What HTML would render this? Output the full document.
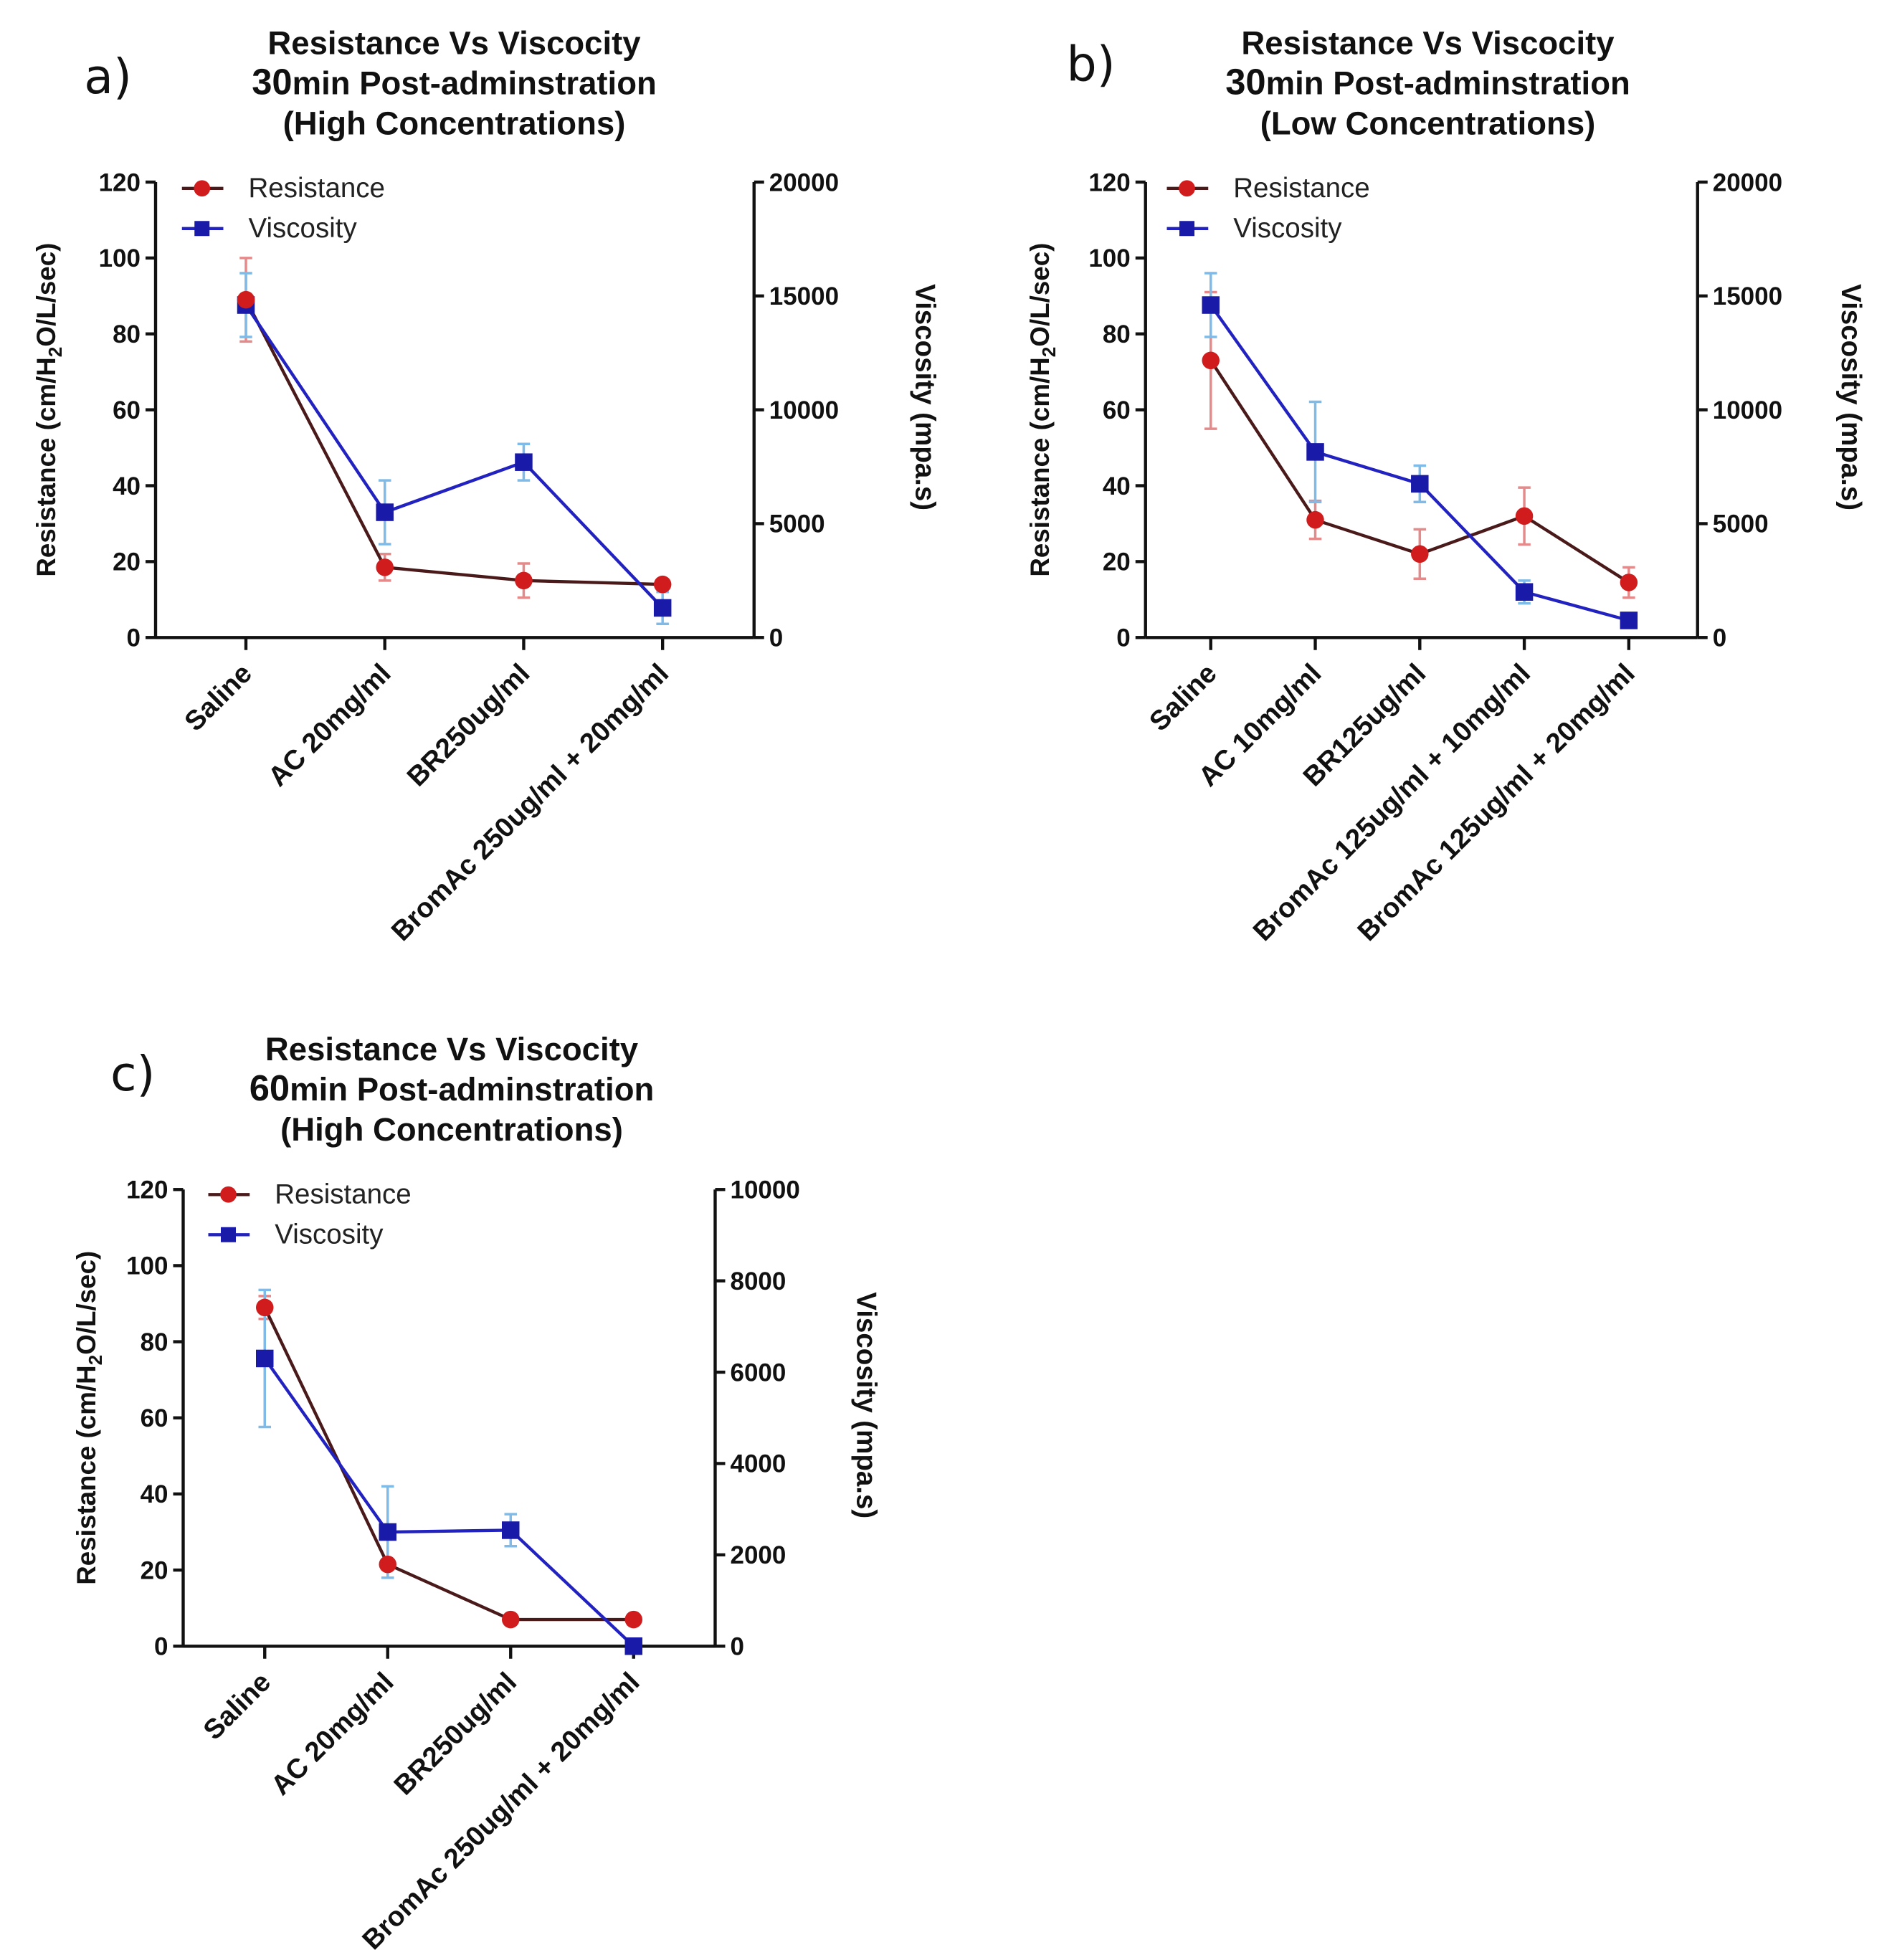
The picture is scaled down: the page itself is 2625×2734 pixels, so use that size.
<!DOCTYPE html>
<html><head><meta charset="utf-8">
<style>
html,body{margin:0;padding:0;background:#fff;}
svg{display:block;font-family:"Liberation Sans",Arial,sans-serif;}
</style></head>
<body>
<svg id="fig" width="2625" height="2734" viewBox="0 0 1500 1562" xmlns="http://www.w3.org/2000/svg"></svg>
<script>
// ---- Panel a data ----
const catsA = ["Saline","AC 20mg/ml","BR250ug/ml","BromAc 250ug/ml + 20mg/ml"];
const resA = [89, 18.5, 15, 14];
const resErrA = [11, 3.5, 4.5, 0];
const visA = [14600, 5500, 7700, 1300];
const visErrA = [1400, 1400, 800, 700];
const leftTicksA = [0,20,40,60,80,100,120];
const rightTicksA = [0,5000,10000,15000,20000];
// ---- Panel b data ----
const catsB = ["Saline","AC 10mg/ml","BR125ug/ml","BromAc 125ug/ml + 10mg/ml","BromAc 125ug/ml + 20mg/ml"];
const resB = [73, 31, 22, 32, 14.5];
const resErrB = [18, 5, 6.5, 7.5, 4];
const visB = [14600, 8150, 6750, 2000, 750];
const visErrB = [1400, 2200, 800, 500, 0];
const leftTicksB = [0,20,40,60,80,100,120];
const rightTicksB = [0,5000,10000,15000,20000];
// ---- Panel c data ----
const catsC = ["Saline","AC 20mg/ml","BR250ug/ml","BromAc 250ug/ml + 20mg/ml"];
const resC = [89, 21.5, 7, 7];
const resErrC = [3, 0, 0, 0];
const visC = [6300, 2500, 2540, 0];
const visErrC = [1500, 1000, 350, 0];
const leftTicksC = [0,20,40,60,80,100,120];
const rightTicksC = [0,2000,4000,6000,8000,10000];

const NS = "http://www.w3.org/2000/svg";
const svg = document.getElementById("fig");
function mk(tag, attrs, parent, text){
  const e = document.createElementNS(NS, tag);
  for (const k in attrs) e.setAttribute(k, attrs[k]);
  if (text !== undefined) e.textContent = text;
  (parent||svg).appendChild(e);
  return e;
}

function panel(p){
  const g = mk("g", {});
  
  
  const yL = v => p.bot - (v/120)*(p.bot-p.top);
  const yR = v => p.bot - (v/p.rmax)*(p.bot-p.top);
  const xC = i => p.x0 + i*p.dx;

  const lt = mk("text", {x:p.lx, y:p.ly, "font-size":38, fill:"#111", "font-family":"'DejaVu Sans',sans-serif"}, g, p.id + ")");
  
  
  const t = mk("text", {x:p.tx, y:p.ty, "font-size":26, "font-weight":"bold", "text-anchor":"middle", fill:"#111"}, g);
  
  
  mk("tspan", {x:p.tx, dy:0}, t, "Resistance Vs Viscocity");
  const t2 = mk("tspan", {x:p.tx, dy:32}, t);
  mk("tspan", {"font-size":29}, t2, p.min);
  mk("tspan", {}, t2, "min Post-adminstration");
  mk("tspan", {x:p.tx, dy:32}, t, p.sub);

  const ax = mk("g", {stroke:"#111","stroke-width":2.5, fill:"none"}, g);
  
  
  mk("line", {x1:p.L, y1:p.top, x2:p.L, y2:p.bot}, ax);
  mk("line", {x1:p.R, y1:p.top, x2:p.R, y2:p.bot}, ax);
  mk("line", {x1:p.L, y1:p.bot, x2:p.R, y2:p.bot}, ax);
  p.lt.forEach(v => {
    mk("line", {x1:p.L-8, y1:yL(v), x2:p.L, y2:yL(v)}, ax);
    const tl = mk("text", {x:p.L-12, y:yL(v)+7, "font-size":20, "font-weight":"bold", "text-anchor":"end", fill:"#111", stroke:"none"}, g, v);
    
    
  });
  p.rt.forEach(v => {
    mk("line", {x1:p.R, y1:yR(v), x2:p.R+8, y2:yR(v)}, ax);
    const tr = mk("text", {x:p.R+12, y:yR(v)+7, "font-size":20, "font-weight":"bold", fill:"#111", stroke:"none"}, g, v);
    
    
  });
  p.cats.forEach((c,i) => {
    mk("line", {x1:xC(i), y1:p.bot, x2:xC(i), y2:p.bot+10}, ax);
    const cx = xC(i)+6, cy = p.bot+30;
    const cl = mk("text", {x:cx, y:cy, "font-size":22, "font-weight":"bold", "text-anchor":"end", fill:"#111",
      transform:`rotate(-45 ${cx} ${cy})`}, g, c);
    
    
  });
  const ylx = p.ylx, yly = (p.top+p.bot)/2;
  const yt = mk("text", {x:ylx, y:yly, "font-size":21, "font-weight":"bold", "text-anchor":"middle", fill:"#111",
    transform:`rotate(-90 ${ylx} ${yly})`}, g);
  
  
  mk("tspan", {}, yt, "Resistance (cm/H");
  mk("tspan", {"font-size":15, dy:5}, yt, "2");
  mk("tspan", {dy:-5}, yt, "O/L/sec)");
  const rlx = p.rlx, rly = yly - 10;
  const rtt = mk("text", {x:rlx, y:rly, "font-size":22, "font-weight":"bold", "text-anchor":"middle", fill:"#111",
    transform:`rotate(90 ${rlx} ${rly})`}, g, "Viscosity (mpa.s)");
  
  

  const eb = (x, y1, y2, col) => {
    const eg = mk("g", {stroke:col, "stroke-width":2}, g);
    
    
    mk("line", {x1:x, y1:y1, x2:x, y2:y2}, eg);
    mk("line", {x1:x-5, y1:y1, x2:x+5, y2:y1}, eg);
    mk("line", {x1:x-5, y1:y2, x2:x+5, y2:y2}, eg);
  };
  p.res.forEach((v,i) => { if (p.resErr[i]>0) eb(xC(i), yL(v+p.resErr[i]), yL(v-p.resErr[i]), "#e58a8a"); });
  p.vis.forEach((v,i) => { if (p.visErr[i]>0) eb(xC(i), yR(v+p.visErr[i]), yR(Math.max(0,v-p.visErr[i])), "#7fbbe8"); });

  const rl = mk("polyline", {points:p.res.map((v,i)=>xC(i)+","+yL(v)).join(" "), fill:"none", stroke:"#4a1a1a","stroke-width":2.5}, g);
  
  
  const vl = mk("polyline", {points:p.vis.map((v,i)=>xC(i)+","+yR(v)).join(" "), fill:"none", stroke:"#2222c0","stroke-width":2.5}, g);
  
  
  p.vis.forEach((v,i) => {
    const s = mk("rect", {x:xC(i)-7, y:yR(v)-7, width:14, height:14, fill:"#1a1aa8"}, g);
    
    
  });
  p.res.forEach((v,i) => {
    const c = mk("circle", {cx:xC(i), cy:yL(v), r:7, fill:"#d01c1c"}, g);
    
    
  });

  const lg = mk("g", {}, g);
  
  
  const le1 = mk("g", {}, lg);
  
  
  mk("line", {x1:p.legx, y1:p.legy, x2:p.legx+33, y2:p.legy, stroke:"#4a1a1a","stroke-width":2.5}, le1);
  mk("circle", {cx:p.legx+16, cy:p.legy, r:6.5, fill:"#d01c1c"}, le1);
  mk("text", {x:p.legx+53, y:p.legy+7, "font-size":22, fill:"#222"}, le1, "Resistance");
  const le2 = mk("g", {}, lg);
  
  
  mk("line", {x1:p.legx, y1:p.legy+32, x2:p.legx+33, y2:p.legy+32, stroke:"#2222c0","stroke-width":2.5}, le2);
  mk("rect", {x:p.legx+10, y:p.legy+26, width:12, height:12, fill:"#1a1aa8"}, le2);
  mk("text", {x:p.legx+53, y:p.legy+39, "font-size":22, fill:"#222"}, le2, "Viscosity");
}

panel({id:"a", cats:catsA, res:resA, resErr:resErrA, vis:visA, visErr:visErrA, lt:leftTicksA, rt:rightTicksA, rmax:20000,
  L:124, R:601, top:145, bot:508, x0:196, dx:110.7, lx:67, ly:74, tx:362, ty:43, min:"30", sub:"(High Concentrations)",
  ylx:44, rlx:730, legx:145, legy:150});
panel({id:"b", cats:catsB, res:resB, resErr:resErrB, vis:visB, visErr:visErrB, lt:leftTicksB, rt:rightTicksB, rmax:20000,
  L:913, R:1353, top:145, bot:508, x0:965, dx:83.3, lx:850, ly:64, tx:1138, ty:43, min:"30", sub:"(Low Concentrations)",
  ylx:836, rlx:1468, legx:930, legy:150});
panel({id:"c", cats:catsC, res:resC, resErr:resErrC, vis:visC, visErr:visErrC, lt:leftTicksC, rt:rightTicksC, rmax:10000,
  L:146, R:570, top:948, bot:1312, x0:211, dx:98, lx:88, ly:869, tx:360, ty:845, min:"60", sub:"(High Concentrations)",
  ylx:76, rlx:683, legx:166, legy:952});
</script>
</body></html>
